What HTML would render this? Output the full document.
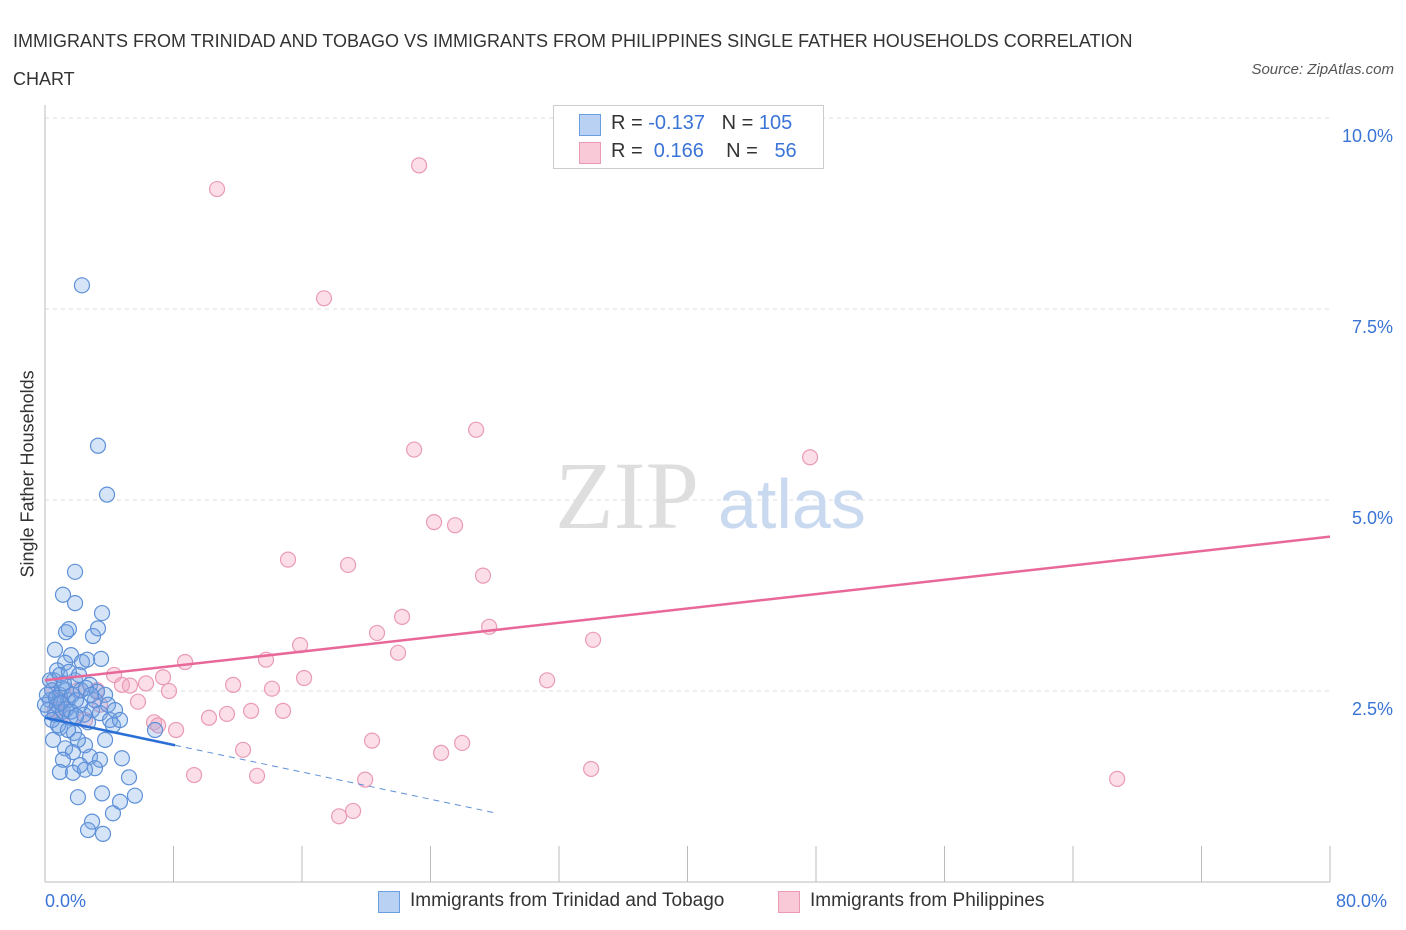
<!DOCTYPE html>
<html><head><meta charset="utf-8"><style>
body{margin:0;background:#fff;font-family:"Liberation Sans",sans-serif;}
#wrap{position:relative;width:1406px;height:930px;overflow:hidden;}
.t{position:absolute;white-space:nowrap;}
</style></head><body>
<div id="wrap">
<div class="t" style="left:13px;top:22px;font-size:18px;color:#333;line-height:38px;width:1180px;white-space:normal">IMMIGRANTS FROM TRINIDAD AND TOBAGO VS IMMIGRANTS FROM PHILIPPINES SINGLE FATHER HOUSEHOLDS CORRELATION CHART</div>
<div class="t" style="right:12px;top:61px;font-size:15px;color:#555;font-style:italic">Source: ZipAtlas.com</div>
<svg id="svg" width="1406" height="930" style="position:absolute;left:0;top:0"></svg>
</div>
<script>
const blueX=[2.30,3.30,3.86,1.87,1.12,1.87,3.55,1.49,2.99,3.30,1.31,0.62,1.62,3.49,2.30,2.62,1.25,0.75,0.56,1.87,2.80,3.24,0.44,0.93,1.43,2.18,2.93,3.42,0.62,1.12,1.56,4.05,2.68,4.23,0.93,1.81,6.85,3.74,2.49,1.25,1.74,2.80,4.79,1.12,3.42,2.18,3.11,0.93,1.74,2.49,5.23,2.05,3.55,4.67,5.60,4.23,2.93,2.68,3.61,0.31,0.19,0.44,0.75,1.06,1.31,1.68,1.93,2.43,3.11,3.74,0.81,1.43,0.50,2.05,0.0,0.12,0.68,1.00,1.31,1.62,1.93,2.24,2.55,2.86,3.92,4.36,4.67,0.31,0.93,1.18,1.49,2.12];
const blueY=[7.81,5.71,5.07,4.06,3.76,3.65,3.52,3.31,3.22,3.32,3.27,3.04,2.97,2.92,2.88,2.91,2.87,2.77,2.64,2.64,2.58,2.49,2.51,2.45,2.38,2.32,2.25,2.21,2.19,2.23,2.15,2.12,2.09,2.05,2.02,1.95,1.99,1.86,1.79,1.75,1.70,1.64,1.62,1.60,1.60,1.53,1.49,1.44,1.43,1.47,1.37,1.11,1.16,1.05,1.13,0.90,0.79,0.68,0.63,2.38,2.25,2.12,2.32,2.54,2.51,2.45,2.38,2.19,2.38,2.45,2.05,1.99,1.86,1.86,2.32,2.45,2.41,2.34,2.26,2.23,2.17,2.51,2.54,2.45,2.32,2.25,2.12,2.64,2.71,2.60,2.75,2.71];
const pinkX=[10.71,23.29,17.37,26.84,22.98,47.63,24.22,25.53,15.13,18.87,27.27,22.23,20.67,27.65,34.12,15.88,21.98,13.76,8.72,16.13,4.30,7.35,4.79,5.29,6.29,11.71,14.13,7.72,31.26,3.24,5.79,6.79,10.21,11.33,12.83,14.82,7.04,8.16,12.33,20.36,25.97,24.66,9.28,13.20,19.93,34.0,66.75,19.18,18.31,2.05,0.93,0.62,3.42,1.06,2.49,0.44];
const pinkY=[9.07,9.38,7.64,5.92,5.66,5.56,4.71,4.67,4.22,4.15,4.01,3.47,3.26,3.34,3.17,3.10,3.00,2.91,2.88,2.67,2.71,2.68,2.58,2.57,2.60,2.58,2.53,2.50,2.64,2.51,2.36,2.09,2.15,2.20,2.24,2.24,2.05,1.99,1.73,1.85,1.82,1.69,1.40,1.39,1.34,1.48,1.35,0.93,0.86,2.51,2.38,2.25,2.32,2.19,2.12,2.51];
const pinkTrend=[2.64,4.52];   // y at x=0 and x=80
const blueTrend=[2.15,1.79];   // y at x=0 and x=8.1
const blueTrendX=[0,8.1,27.9];
const yTicks=[2.5,5.0,7.5,10.0];
const yTickLabels=["2.5%","5.0%","7.5%","10.0%"];
const xTicks=[0,8,16,24,32,40,48,56,64,72,80];

const NS="http://www.w3.org/2000/svg";
const svg=document.getElementById('svg');
const X=v=>45+v*(1285/80);
const Y=v=>882-v*76.4;
function mk(tag,attrs,parent){const e=document.createElementNS(NS,tag);for(const k in attrs)e.setAttribute(k,attrs[k]);(parent||svg).appendChild(e);return e;}

// gridlines
yTicks.forEach((v,i)=>{
 const g=mk('line',{x1:45,x2:1330,y1:Y(v),y2:Y(v),stroke:'#dcdcdc','stroke-dasharray':'4,4'});
 
 
 const t=mk('text',{x:1393,y:Y(v)+24,'text-anchor':'end','font-size':18,fill:'#3a74d6'});
 t.textContent=yTickLabels[i];
 
 
});
// axes
const ax=mk('line',{x1:45,x2:45,y1:105,y2:882,stroke:'#bbb'});


const bx=mk('line',{x1:45,x2:1330,y1:882,y2:882,stroke:'#bbb'});


xTicks.forEach(v=>{
 const t=mk('line',{x1:X(v),x2:X(v),y1:846,y2:882,stroke:'#bbb'});
 
 
});
// watermark
const w1=mk('text',{x:555,y:528,'font-size':96,fill:'#dedede','font-family':'Liberation Serif, serif'});
w1.textContent='ZIP';


const w2=mk('text',{x:718,y:528,'font-size':70,fill:'#c9d9ef'});
w2.textContent='atlas';



// points
pinkX.forEach((x,i)=>{
 const c=mk('circle',{cx:X(x),cy:Y(pinkY[i]),r:7.5,fill:'rgba(244,160,190,0.35)',stroke:'#ea9ab6','stroke-width':1.2});
 
 
});
blueX.forEach((x,i)=>{
 const c=mk('circle',{cx:X(x),cy:Y(blueY[i]),r:7.5,fill:'rgba(120,165,230,0.3)',stroke:'#5d90d8','stroke-width':1.2});
 
 
});
// trend lines
const pl=mk('line',{x1:X(0),y1:Y(pinkTrend[0]),x2:X(80),y2:Y(pinkTrend[1]),stroke:'#e8689a','stroke-width':2.5});


const bs=(blueTrend[1]-blueTrend[0])/blueTrendX[1];
const bl=mk('line',{x1:X(blueTrendX[0]),y1:Y(blueTrend[0]),x2:X(blueTrendX[1]),y2:Y(blueTrend[1]),stroke:'#2a6fd6','stroke-width':2.5});


const bd=mk('line',{x1:X(blueTrendX[1]),y1:Y(blueTrend[1]),x2:X(blueTrendX[2]),y2:Y(Math.max(0,blueTrend[0]+bs*blueTrendX[2])),stroke:'#5d90d8','stroke-width':1,'stroke-dasharray':'6,5'});


</script>
<div class="t" style="left:-57px;top:482px;font-size:18px;color:#333;transform:rotate(-90deg);width:170px;text-align:center">Single Father Households</div>
<div class="t" style="left:45px;top:891px;font-size:18px;color:#3a74d6">0.0%</div>
<div class="t" style="left:1336px;top:891px;font-size:18px;color:#3a74d6">80.0%</div>
<div style="position:absolute;left:553px;top:105px;width:269px;height:62px;border:1px solid #ccc;background:#fff;font-size:20px;color:#333">
 <div style="position:absolute;left:25px;top:8px;width:20px;height:20px;background:#b9d2f4;border:1px solid #6a9ee0"></div>
 <div class="t" style="left:57px;top:6px">R = <span style="color:#3a74d6">-0.137</span>&nbsp;&nbsp;&nbsp;N = <span style="color:#3a74d6">105</span></div>
 <div style="position:absolute;left:25px;top:36px;width:20px;height:20px;background:#f9c9d8;border:1px solid #eb9ab6"></div>
 <div class="t" style="left:57px;top:34px">R = &nbsp;<span style="color:#3a74d6">0.166</span>&nbsp;&nbsp;&nbsp;&nbsp;N = &nbsp;&nbsp;<span style="color:#3a74d6">56</span></div>
</div>
<div style="position:absolute;left:378px;top:890px;font-size:19px;color:#333">
 <div style="position:absolute;left:0;top:1px;width:20px;height:20px;background:#b9d2f4;border:1px solid #6a9ee0"></div>
 <div class="t" style="left:32px;top:0">Immigrants from Trinidad and Tobago</div>
 <div style="position:absolute;left:400px;top:1px;width:20px;height:20px;background:#f9c9d8;border:1px solid #eb9ab6"></div>
 <div class="t" style="left:432px;top:0">Immigrants from Philippines</div>
</div>
</body></html>
